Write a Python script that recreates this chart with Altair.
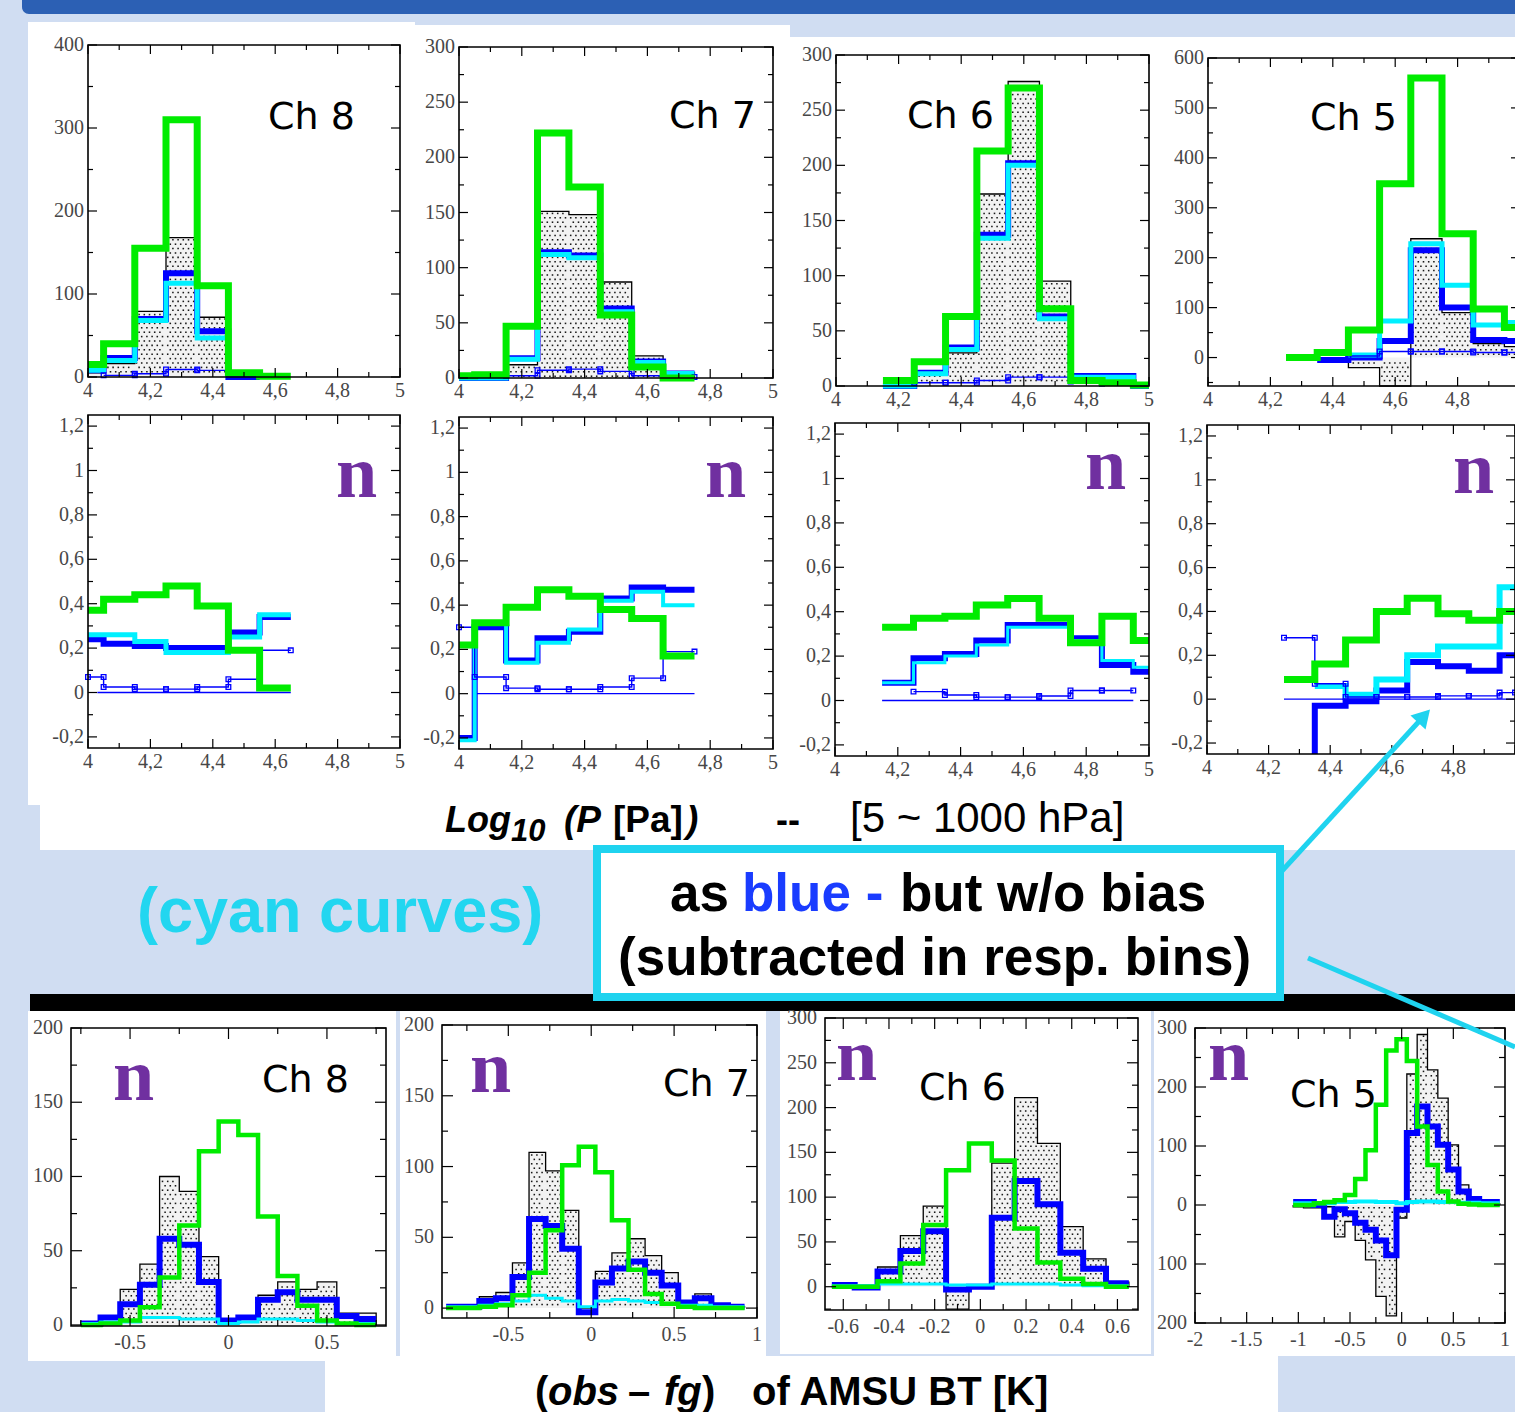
import altair as alt
import pandas as pd

W, H = 1515, 1412
BIN = 0.1

LIGHT = "#d0ddf2"
HEADER = "#2c60b4"
GREEN = "#00ec00"
BLUE = "#0000ff"
CYAN = "#00f0ff"
HIST_FILL = "#f2f2f2"
PURPLE = "#7030a0"
ARROW = "#1fd3ef"
TEXT_BLUE = "#1a3cff"
LABEL_GREY = "#474747"

# ---------------- data: (first bin edge, values of 0.1-wide bins) ----------------
# Row 1 : counts vs Log10(P)
r1c8_grey = (3.95, [5, 16, 79, 168, 72])
r1c8_blue = (3.95, [8, 23, 70, 125, 55, -3])
r1c8_cyan = (3.95, [8, 20, 68, 113, 47])
r1c8_thin = (4.05, [2, 4, 9, 8])
r1c8_green = (3.95, [15, 40, 155, 310, 110, 5, 1])

r1c7_grey = (3.95, [0, 0, 12, 151, 148, 87, 20, 5])
r1c7_blue = (3.95, [0, 0, 18, 114, 111, 63, 15, 4])
r1c7_cyan = (3.95, [0, 0, 17, 112, 109, 60, 14, 4])
r1c7_thin = (4.15, [2, 7, 8, 6, 2, 1])
r1c7_green = (3.95, [2, 3, 47, 222, 173, 57, 10, 0])

r1c6_grey = (4.15, [0, 10, 30, 174, 276, 95, 5, 2, 0])
r1c6_blue = (4.15, [0, 12, 35, 137, 202, 63, 9, 9, 0])
r1c6_cyan = (4.15, [0, 11, 33, 134, 200, 61, 8, 8, 0])
r1c6_thin = (4.25, [3, 3, 5, 8, 8, 4, 2])
r1c6_green = (4.15, [5, 22, 63, 213, 270, 70, 5, 3, 1])

r1c5_grey = (4.45, [-20, -80, 238, 90, 28, 22])
r1c5_blue = (4.35, [-5, 0, 33, 215, 100, 35, 33])
r1c5_cyan = (4.45, [5, 73, 228, 145, 65, 70])
r1c5_thin = (4.45, [3, 12, 12, 12, 10, 10])
r1c5_green = (4.25, [0, 10, 55, 348, 560, 248, 97, 60])

# Row 2 : fraction n vs Log10(P)
r2c8_blue = (3.95, [0.24, 0.22, 0.21, 0.20, 0.20, 0.27, 0.34])
r2c8_cyan = (3.95, [0.26, 0.26, 0.23, 0.18, 0.18, 0.25, 0.35])
r2c8_thin = (3.95, [0.07, 0.025, 0.015, 0.015, 0.025, 0.06, 0.19])
r2c8_green = (3.95, [0.37, 0.42, 0.44, 0.48, 0.39, 0.19, 0.02])
r2c8_zero = (4.03, 4.65)

r2c7_blue = (3.95, [-0.2, 0.30, 0.15, 0.25, 0.28, 0.43, 0.48, 0.47])
r2c7_cyan = (3.95, [-0.21, 0.32, 0.14, 0.23, 0.29, 0.42, 0.46, 0.40])
r2c7_thin = (3.95, [0.30, 0.075, 0.025, 0.02, 0.02, 0.03, 0.07, 0.19])
r2c7_green = (3.95, [0.22, 0.32, 0.39, 0.47, 0.44, 0.38, 0.34, 0.17])
r2c7_zero = (4.05, 4.75)

r2c6_blue = (4.15, [0.08, 0.19, 0.21, 0.27, 0.34, 0.34, 0.28, 0.16, 0.13])
r2c6_cyan = (4.15, [0.08, 0.17, 0.20, 0.25, 0.33, 0.33, 0.27, 0.18, 0.15])
r2c6_thin = (4.25, [0.04, 0.025, 0.015, 0.015, 0.02, 0.045, 0.045])
r2c6_green = (4.15, [0.33, 0.37, 0.38, 0.43, 0.46, 0.37, 0.26, 0.38, 0.27])
r2c6_zero = (4.15, 4.95)

r2c5_blue = (4.35, [-0.03, -0.01, 0.04, 0.17, 0.15, 0.13, 0.20])
r2c5_blue_lead = -0.3
r2c5_cyan = (4.35, [0.06, 0.02, 0.09, 0.20, 0.24, 0.24, 0.51])
r2c5_thin = (4.25, [0.28, 0.07, 0.01, 0.01, 0.01, 0.015, 0.015, 0.03])
r2c5_green = (4.25, [0.09, 0.16, 0.27, 0.40, 0.46, 0.39, 0.36, 0.40])
r2c5_zero = (4.25, 5.0)

# Row 3 : counts vs (obs - fg)
r3c8_grey = (-0.75, [2, 5, 24, 41, 100, 90, 46, 2, 5, 20, 29, 24, 29, 8, 8])
r3c8_blue = (-0.75, [1, 5, 14, 27, 58, 54, 29, 3, 5, 17, 22, 17, 17, 6, 4])
r3c8_cyan = (-0.75, [1, 2, 2, 5, 5, 4, 4, 1, 2, 4, 4, 3, 2, 1, 1])
r3c8_green = (-0.75, [0, 1, 3, 12, 32, 67, 117, 137, 128, 73, 33, 13, 3, 1, 0])

r3c7_grey = (-0.875, [0, 2, 8, 11, 32, 110, 97, 69, 0, 26, 39, 49, 37, 25, 5, 10, 2, 1])
r3c7_blue = (-0.875, [1, 1, 5, 7, 22, 63, 58, 42, -3, 18, 28, 33, 25, 16, 4, 7, 2, 1])
r3c7_cyan = (-0.875, [1, 1, 2, 3, 5, 9, 7, 5, 1, 5, 6, 5, 4, 3, 2, 2, 1, 1])
r3c7_green = (-0.875, [0, 0, 1, 2, 9, 25, 55, 101, 114, 96, 62, 27, 10, 3, 1, 0, 0, 0])

r3c6_grey = (-0.65, [0, -2, 22, 57, 90, -25, 0, 138, 211, 160, 67, 31, 5])
r3c6_blue = (-0.65, [2, -1, 17, 40, 62, -3, 0, 77, 118, 92, 38, 20, 4])
r3c6_cyan = (-0.65, [1, 1, 3, 3, 3, 2, 2, 3, 3, 3, 2, 1, 1])
r3c6_green = (-0.65, [0, 0, 6, 26, 69, 130, 160, 141, 65, 27, 9, 3, 0])

r3c5_grey = (-1.05, [-3, -5, -5, -3, -54, -28, -60, -93, -155, -188, -22, 222, 289, 229, 181, 102, 34, 14, 5, 2])
r3c5_blue = (-1.05, [5, 5, 0, -20, -7, -14, -30, -42, -60, -85, -8, 122, 167, 133, 102, 60, 23, 10, 5, 5])
r3c5_cyan = (-1.05, [3, 3, 3, 3, 5, 5, 6, 6, 5, 5, 3, 5, 6, 6, 5, 5, 4, 4, 3, 3])
r3c5_green = (-1.05, [0, 0, 3, 5, 8, 17, 44, 93, 170, 262, 281, 244, 133, 68, 23, 6, 2, 1, 0, 0])

# tick / label values
logp_labels = [4, 4.2, 4.4, 4.6, 4.8, 5]
logp_labels_cut = [4, 4.2, 4.4, 4.6, 4.8]
logp_minor = [4.1, 4.3, 4.5, 4.7, 4.9]
n_labels = [-0.2, 0, 0.2, 0.4, 0.6, 0.8, 1, 1.2]
n_minor = [-0.1, 0.1, 0.3, 0.5, 0.7, 0.9, 1.1]
y300 = [0, 50, 100, 150, 200, 250, 300]
y300m = [25, 75, 125, 175, 225, 275]
y200 = [0, 50, 100, 150, 200]
y200m = [25, 75, 125, 175]

# ---------------- helpers ----------------
one = pd.DataFrame({"a": [0]})


def edges(start, n):
    return [round(start + BIN * i, 4) for i in range(n + 1)]


def step_df(series, close=False, lead=None):
    start, vals = series
    xs = edges(start, len(vals))
    pts = list(zip(xs, list(vals) + [vals[-1]]))
    if lead is not None:
        pts = [(xs[0], lead)] + pts
    if close:
        pts = [(xs[0], 0)] + pts + [(xs[-1], 0)]
    return pd.DataFrame({"x": [p[0] for p in pts], "y": [p[1] for p in pts], "i": list(range(len(pts)))})


def square_df(series):
    start, vals = series
    xs = edges(start, len(vals))
    px_, py_ = [], []
    for i, v in enumerate(vals):
        px_.append(xs[i]); py_.append(v)
        if i > 0:
            px_.append(xs[i]); py_.append(vals[i - 1])
    px_.append(xs[-1]); py_.append(vals[-1])
    return pd.DataFrame({"x": px_, "y": py_})


def stipple_df(series, p, sx=5.2, sy=4.4):
    """Regular dot texture filling each histogram bin (data-space positions)."""
    px, py, w, h = p["geo"]
    x0, x1 = p["xdom"]
    y0, y1 = p["ydom"]
    start, vals = series
    xs = edges(start, len(vals))

    def tx(x):
        return px + (x - x0) / (x1 - x0) * w

    def ty(y):
        return py + h - (y - y0) / (y1 - y0) * h

    out_x, out_y = [], []
    for i, v in enumerate(vals):
        if v == 0:
            continue
        xa, xb = tx(max(x0, xs[i])), tx(min(x1, xs[i + 1]))
        yv = max(y0, min(y1, v))
        yz = max(y0, min(y1, 0))
        ya, yb = sorted((ty(yv), ty(yz)))
        for r in range(int(ya // sy) - 1, int(yb // sy) + 2):
            yy = r * sy + sy / 2
            if yy < ya + 1.2 or yy > yb - 1.2:
                continue
            off = 0 if r % 2 == 0 else sx / 2
            for c in range(int((xa - off) // sx) - 1, int((xb - off) // sx) + 2):
                xx = c * sx + off + sx / 4
                if xx < xa + 1.2 or xx > xb - 1.2:
                    continue
                out_x.append(x0 + (xx - px) / w * (x1 - x0))
                out_y.append(y0 + (py + h - yy) / h * (y1 - y0))
    return pd.DataFrame({"x": out_x, "y": out_y})


def fmt(v, kind):
    a = abs(v)
    s = str(int(round(a))) if abs(a - round(a)) < 1e-9 else f"{a:.1f}"
    if kind == "comma":
        s = s.replace(".", ",")
    if v < 0 and kind != "abs":
        s = "-" + s
    return s


def rect(x1, y1, x2, y2, color, **kw):
    return alt.Chart(one).mark_rect(color=color, **kw).encode(
        x=alt.value(x1), x2=alt.value(x2), y=alt.value(y1), y2=alt.value(y2))


def text(x, y, s, size, color="black", font="Liberation Sans", weight="bold", style="normal", align="left"):
    return alt.Chart(one).mark_text(text=s, fontSize=size, color=color, font=font, fontWeight=weight,
                                    fontStyle=style, align=align, baseline="alphabetic").encode(
        x=alt.value(x), y=alt.value(y))


def seg(x1, y1, x2, y2, color, width):
    return alt.Chart(one).mark_rule(color=color, strokeWidth=width).encode(
        x=alt.value(x1), y=alt.value(y1), x2=alt.value(x2), y2=alt.value(y2))


def make_panel(p):
    px, py, w, h = p["geo"]
    xs = alt.Scale(domain=p["xdom"], range=[px, px + w], nice=False, zero=False, clamp=True)
    ys = alt.Scale(domain=p["ydom"], range=[py + h, py], nice=False, zero=False, clamp=True)
    xpad, ypad = p["pad"]

    def X(f="x"):
        return alt.X(f + ":Q", scale=xs, axis=None)

    def Y(f="y"):
        return alt.Y(f + ":Q", scale=ys, axis=None)

    gw, bw, cw = p["widths"]
    s = p["series"]
    L = []
    if "grey" in s:
        L.append(alt.Chart(step_df(s["grey"])).mark_area(interpolate="step-after", color=HIST_FILL).encode(
            x=X(), y=Y(), y2=alt.datum(0)))
        L.append(alt.Chart(stipple_df(s["grey"], p)).mark_square(
            size=2.4, color="black", opacity=0.9).encode(x=X(), y=Y()))
        L.append(alt.Chart(step_df(s["grey"], close=True)).mark_line(
            interpolate="step-after", color="black", strokeWidth=1.3).encode(x=X(), y=Y(), order="i:Q"))
    if "zero" in s:
        a, b = s["zero"]
        L.append(alt.Chart(pd.DataFrame({"x": [a, b], "y": [0, 0]})).mark_line(
            color=BLUE, strokeWidth=1.4).encode(x=X(), y=Y()))
    if "blue" in s:
        L.append(alt.Chart(step_df(s["blue"], lead=s.get("blue_lead"))).mark_line(
            interpolate="step-after", color=BLUE, strokeWidth=bw).encode(x=X(), y=Y(), order="i:Q"))
    if "cyan" in s:
        L.append(alt.Chart(step_df(s["cyan"])).mark_line(
            interpolate="step-after", color=CYAN, strokeWidth=cw).encode(x=X(), y=Y(), order="i:Q"))
    if "thin" in s:
        L.append(alt.Chart(step_df(s["thin"])).mark_line(
            interpolate="step-after", color=BLUE, strokeWidth=1.4).encode(x=X(), y=Y(), order="i:Q"))
        L.append(alt.Chart(square_df(s["thin"])).mark_point(
            shape="square", filled=False, color=BLUE, size=22, strokeWidth=1.3, opacity=1).encode(x=X(), y=Y()))
    if "green" in s:
        L.append(alt.Chart(step_df(s["green"])).mark_line(
            interpolate="step-after", color=GREEN, strokeWidth=gw).encode(x=X(), y=Y(), order="i:Q"))

    ML, MS = p["ticklen"]

    def xt(vals, y0, y1):
        return alt.Chart(pd.DataFrame({"v": vals})).mark_rule(color="black", strokeWidth=1.2).encode(
            x=X("v"), y=alt.value(y0), y2=alt.value(y1))

    def yt(vals, x0, x1):
        return alt.Chart(pd.DataFrame({"v": vals})).mark_rule(color="black", strokeWidth=1.2).encode(
            y=Y("v"), x=alt.value(x0), x2=alt.value(x1))

    L.append(xt(p["xmaj"], py + h, py + h - ML))
    L.append(xt(p["xmaj"], py, py + ML))
    L.append(xt(p["xmin"], py + h, py + h - MS))
    L.append(xt(p["xmin"], py, py + MS))
    L.append(yt(p["ymaj"], px, px + ML))
    L.append(yt(p["ymaj"], px + w, px + w - ML))
    L.append(yt(p["ymin"], px, px + MS))
    L.append(yt(p["ymin"], px + w, px + w - MS))
    L.append(alt.Chart(one).mark_rect(fillOpacity=0, stroke="black", strokeWidth=1.6).encode(
        x=alt.value(px), x2=alt.value(px + w), y=alt.value(py), y2=alt.value(py + h)))

    # tick labels, placed through the panel's scales
    xl = pd.DataFrame({"v": p["xlab"], "lab": [fmt(v, p["xfmt"]) for v in p["xlab"]]})
    yl = pd.DataFrame({"v": p["ylab"], "lab": [fmt(v, p["yfmt"]) for v in p["ylab"]]})
    L.append(alt.Chart(xl).mark_text(font="Liberation Serif", fontSize=20, color=LABEL_GREY,
                                     align="center", baseline="top").encode(
        x=X("v"), y=alt.value(py + h + xpad), text="lab:N"))
    L.append(alt.Chart(yl).mark_text(font="Liberation Serif", fontSize=20, color=LABEL_GREY,
                                     align="right", baseline="middle").encode(
        y=Y("v"), x=alt.value(px - ypad), text="lab:N"))

    for (t, tx, ty, kind) in p["tags"]:
        if kind == "ch":
            L.append(text(tx, ty, t, 38, font="DejaVu Sans", weight="normal"))
        else:
            L.append(text(tx, ty, t, 74, color=PURPLE, font="Liberation Serif", weight="bold"))
    return alt.layer(*L)


TOP = dict(xdom=[4, 5], xlab=logp_labels, xmaj=logp_labels, xmin=logp_minor, xfmt="comma",
           pad=(4, 4), widths=(7, 6, 5), ticklen=(9, 5))
MID = dict(xdom=[4, 5], xlab=logp_labels, xmaj=logp_labels, xmin=logp_minor, xfmt="comma",
           ydom=[-0.25, 1.25], ylab=n_labels, ymaj=n_labels, ymin=n_minor, yfmt="comma",
           pad=(4, 4), widths=(7, 6, 4), ticklen=(9, 5))
BOT = dict(xfmt="dot", pad=(7, 8), widths=(4.5, 6, 3), ticklen=(11, 6))

PANELS = [
    dict(TOP, geo=(88, 45, 312, 332), ydom=[0, 400], ylab=[0, 100, 200, 300, 400], ymaj=[0, 100, 200, 300, 400],
         ymin=[50, 150, 250, 350], yfmt="dot", tags=[("Ch 8", 268, 129, "ch")],
         series=dict(grey=r1c8_grey, blue=r1c8_blue, cyan=r1c8_cyan, thin=r1c8_thin, green=r1c8_green)),
    dict(TOP, geo=(459, 47, 314, 331), ydom=[0, 300], ylab=y300, ymaj=y300, ymin=y300m, yfmt="dot",
         tags=[("Ch 7", 669, 128, "ch")],
         series=dict(grey=r1c7_grey, blue=r1c7_blue, cyan=r1c7_cyan, thin=r1c7_thin, green=r1c7_green)),
    dict(TOP, geo=(836, 55, 313, 331), ydom=[0, 300], ylab=y300, ymaj=y300, ymin=y300m, yfmt="dot",
         tags=[("Ch 6", 907, 128, "ch")],
         series=dict(grey=r1c6_grey, blue=r1c6_blue, cyan=r1c6_cyan, thin=r1c6_thin, green=r1c6_green)),
    dict(TOP, geo=(1208, 58, 312, 328), ydom=[-57, 600], ylab=[0, 100, 200, 300, 400, 500, 600],
         ymaj=[0, 100, 200, 300, 400, 500, 600], ymin=[-50, 50, 150, 250, 350, 450, 550], yfmt="dot",
         xlab=logp_labels_cut, tags=[("Ch 5", 1310, 130, "ch")],
         series=dict(grey=r1c5_grey, blue=r1c5_blue, cyan=r1c5_cyan, thin=r1c5_thin, green=r1c5_green)),
    dict(MID, geo=(88, 415, 312, 333), widths=(7, 6, 5), tags=[("n", 336, 497, "n")],
         series=dict(zero=r2c8_zero, blue=r2c8_blue, cyan=r2c8_cyan, thin=r2c8_thin, green=r2c8_green)),
    dict(MID, geo=(459, 417, 314, 332), tags=[("n", 705, 497, "n")],
         series=dict(zero=r2c7_zero, blue=r2c7_blue, cyan=r2c7_cyan, thin=r2c7_thin, green=r2c7_green)),
    dict(MID, geo=(835, 423, 314, 333), widths=(7, 6, 3), tags=[("n", 1085, 489, "n")],
         series=dict(zero=r2c6_zero, blue=r2c6_blue, cyan=r2c6_cyan, thin=r2c6_thin, green=r2c6_green)),
    dict(MID, geo=(1207, 425, 308, 329), widths=(7, 6, 6), xlab=logp_labels_cut, tags=[("n", 1453, 493, "n")],
         series=dict(zero=r2c5_zero, blue=r2c5_blue, blue_lead=r2c5_blue_lead, cyan=r2c5_cyan,
                     thin=r2c5_thin, green=r2c5_green)),
    dict(BOT, geo=(71, 1028, 315, 298), xdom=[-0.8, 0.8], ydom=[-0.7, 200], xlab=[-0.5, 0, 0.5],
         xmaj=[-0.5, 0, 0.5], xmin=[-0.75, -0.25, 0.25, 0.75], ylab=y200, ymaj=y200, ymin=y200m, yfmt="dot",
         tags=[("n", 113, 1100, "n"), ("Ch 8", 262, 1092, "ch")],
         series=dict(grey=r3c8_grey, blue=r3c8_blue, cyan=r3c8_cyan, green=r3c8_green)),
    dict(BOT, geo=(442, 1025, 315, 293), xdom=[-0.9, 1.0], ydom=[-7, 200], xlab=[-0.5, 0, 0.5, 1],
         xmaj=[-0.5, 0, 0.5, 1], xmin=[-0.75, -0.25, 0.25, 0.75], ylab=y200, ymaj=y200, ymin=y200m, yfmt="dot",
         tags=[("n", 470, 1092, "n"), ("Ch 7", 663, 1096, "ch")],
         series=dict(grey=r3c7_grey, blue=r3c7_blue, cyan=r3c7_cyan, green=r3c7_green)),
    dict(BOT, geo=(825, 1018, 313, 292), xdom=[-0.68, 0.69], ydom=[-26, 300],
         xlab=[-0.6, -0.4, -0.2, 0, 0.2, 0.4, 0.6], xmaj=[-0.6, -0.4, -0.2, 0, 0.2, 0.4, 0.6],
         xmin=[-0.5, -0.3, -0.1, 0.1, 0.3, 0.5], ylab=y300, ymaj=y300, ymin=[-25] + y300m, yfmt="dot",
         tags=[("n", 836, 1080, "n"), ("Ch 6", 919, 1100, "ch")],
         series=dict(grey=r3c6_grey, blue=r3c6_blue, cyan=r3c6_cyan, green=r3c6_green)),
    dict(BOT, geo=(1195, 1028, 310, 295), xdom=[-2, 1], ydom=[-200, 300],
         xlab=[-2, -1.5, -1, -0.5, 0, 0.5, 1], xmaj=[-2, -1.5, -1, -0.5, 0, 0.5, 1],
         xmin=[-1.75, -1.25, -0.75, -0.25, 0.25, 0.75], ylab=[-200, -100, 0, 100, 200, 300],
         ymaj=[-200, -100, 0, 100, 200, 300], ymin=[-150, -50, 50, 150, 250], yfmt="abs",
         widths=(4.5, 6, 4),
         tags=[("n", 1208, 1080, "n"), ("Ch 5", 1290, 1107, "ch")],
         series=dict(grey=r3c5_grey, blue=r3c5_blue, cyan=r3c5_cyan, green=r3c5_green)),
]

# ---------------- slide decorations (behind) ----------------
back = [
    rect(22, 0, 1515, 14, HEADER, cornerRadiusBottomLeft=10),
    rect(28, 22, 415, 805, "white"),
    rect(410, 25, 790, 850, "white"),
    rect(790, 37, 1515, 850, "white"),
    rect(40, 800, 1515, 850, "white"),
    rect(28, 1011, 396, 1361, "white"),
    rect(400, 1011, 766, 1356, "white"),
    rect(780, 1011, 1151, 1354, "white"),
    rect(1154, 1011, 1515, 1356, "white"),
    rect(325, 1356, 1278, 1412, "white"),
    rect(30, 994, 1515, 1011, "black"),
    alt.Chart(one).mark_rect(fill="white", stroke=ARROW, strokeWidth=8).encode(
        x=alt.value(597), x2=alt.value(1280), y=alt.value(849), y2=alt.value(997)),
    # x title of the upper rows
    text(445, 832, "Log", 36, style="italic"),
    text(511, 841, "10", 31, style="italic"),
    text(564, 832, "(P", 37, style="italic"),
    text(613, 832, "[Pa]", 37),
    text(686, 832, ")", 37, style="italic"),
    text(776, 832, "--", 36),
    text(850, 832, "[5 ~ 1000 hPa]", 42, weight="normal"),
    text(137, 932, "(cyan curves)", 63, color="#22d6f0"),
    text(670, 911, "as", 53),
    text(742, 911, "blue -", 53, color=TEXT_BLUE),
    text(900, 911, "but w/o bias", 53),
    text(618, 975, "(subtracted in resp. bins)", 53),
    # bottom title
    text(535, 1405, "(", 40),
    text(548, 1405, "obs", 40, style="italic"),
    text(628, 1405, "\u2013", 40),
    text(664, 1405, "fg", 40, style="italic"),
    text(702, 1405, ")", 40),
    text(752, 1405, "of AMSU BT [K]", 40),
]

panels = [make_panel(p) for p in PANELS]

# ---------------- arrows (front) ----------------
front = [
    seg(1281, 872, 1424, 716, ARROW, 5),
    alt.Chart(one).mark_point(shape="triangle-up", filled=True, color=ARROW, size=420, angle=42.6,
                              opacity=1).encode(x=alt.value(1424), y=alt.value(716)),
    seg(1308, 958, 1515, 1047, ARROW, 5),
]

chart = alt.layer(*back, *panels, *front).resolve_scale(
    x="independent", y="independent"
).properties(
    width=W, height=H, padding=0, autosize=alt.AutoSizeParams(type="none"), background=LIGHT
).configure_view(strokeWidth=0)

chart.save("out.html", embed_options={"renderer": "svg", "actions": False})
